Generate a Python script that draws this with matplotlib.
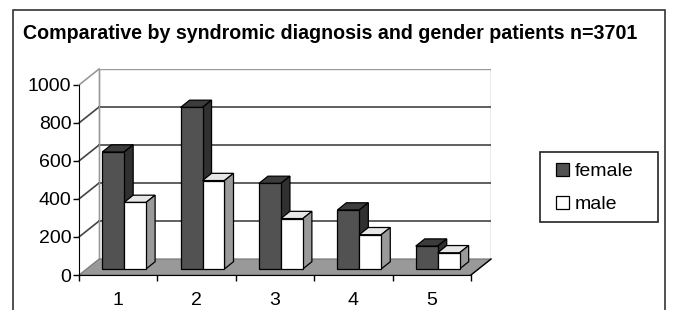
import matplotlib.pyplot as plt
from matplotlib.patches import Polygon, Rectangle
import numpy as np

# data
categories = ["1", "2", "3", "4", "5"]
female = [615, 850, 450, 310, 120]
male = [350, 465, 265, 180, 85]
series_names = ["female", "male"]
yticks = [0, 200, 400, 600, 800, 1000]

plt.rcParams['font.family'] = ['Liberation Sans', 'DejaVu Sans']

W, H = 673, 310
fig = plt.figure(figsize=(W / 100, H / 100), dpi=100)

# pseudo-3d geometry (category units / value units)
wall_dx, wall_dy = 0.256, 84      # back wall offset
base_dx, base_dy = 0.096, 32      # where the bars stand on the floor
top_dx, top_dy = 0.115, 38        # bar depth
bar_w = 0.28
offsets = [0.20, 0.48]            # left of front face inside a category (before base shift)

n = len(categories)
ax = fig.add_axes([79 / W, (H - 275) / H, (491 - 79) / W, (275 - 69) / H])
ax.set_xlim(0, n + wall_dx)
ax.set_ylim(0, yticks[-1] + wall_dy)
ax.set_facecolor('none')

# back wall + side wall
ax.add_patch(Rectangle((wall_dx, wall_dy), n, yticks[-1], fc='white', ec='#999999', lw=1, zorder=1))
for v in yticks[1:]:
    col = '#999999' if v == yticks[-1] else '#444444'
    if v != yticks[-1]:
        ax.plot([wall_dx, n + wall_dx], [v + wall_dy, v + wall_dy], color=col, lw=1.2, zorder=2)
    ax.plot([0, wall_dx], [v, v + wall_dy], color=col, lw=1.2, zorder=2, clip_on=False)
ax.plot([wall_dx, wall_dx], [wall_dy, yticks[-1] + wall_dy], color='#999999', lw=1, zorder=2)

# floor
ax.add_patch(Polygon([(0, 0), (n, 0), (n + wall_dx, wall_dy), (wall_dx, wall_dy)],
                     closed=True, fc='#999999', ec='#777777', lw=0.8, zorder=3, clip_on=False))

# bars
face = [('#525252', '#3c3c3c', '#303030'), ('white', '#e6e6e6', '#9a9a9a')]
handles = []
z = 4
for i in range(n):
    for s, vals in enumerate([female, male]):
        x0 = i + offsets[s] + base_dx
        v = vals[i]
        fc, tc, sc = face[s]
        b = ax.bar(x0, v, width=bar_w, bottom=base_dy, align='edge', color=fc,
                   edgecolor='black', linewidth=0.9, zorder=z + 1)
        if i == 0:
            handles.append(b)
        top = base_dy + v
        ax.add_patch(Polygon([(x0, top), (x0 + bar_w, top), (x0 + bar_w + top_dx, top + top_dy),
                              (x0 + top_dx, top + top_dy)], closed=True, fc=tc, ec='black',
                             lw=0.9, zorder=z))
        ax.add_patch(Polygon([(x0 + bar_w, base_dy), (x0 + bar_w + top_dx, base_dy + top_dy),
                              (x0 + bar_w + top_dx, top + top_dy), (x0 + bar_w, top)],
                             closed=True, fc=sc, ec='black', lw=0.9, zorder=z))
        z += 2

# axes
for sp in ['top', 'right']:
    ax.spines[sp].set_visible(False)
ax.spines['left'].set_bounds(0, yticks[-1])
ax.spines['bottom'].set_bounds(0, n)
ax.spines['left'].set_zorder(40)
ax.spines['bottom'].set_zorder(40)
ax.plot([n, n + wall_dx], [0, wall_dy], color='black', lw=1, zorder=40, clip_on=False)
ax.set_yticks(yticks)
ax.set_yticklabels([str(v) for v in yticks])
ax.set_xticks(np.arange(n + 1))
ax.set_xticklabels([])
ax.set_xticks(np.arange(n) + 0.5, minor=True)
ax.set_xticklabels(categories, minor=True)
ax.tick_params(axis='y', length=4, width=1, pad=1.5, labelsize=14)
ax.tick_params(axis='x', which='major', length=4, width=1, direction='out')
ax.tick_params(axis='x', which='minor', length=0, pad=12, labelsize=14)

fig.text(23 / W, 1 - 39 / H, "Comparative by syndromic diagnosis and gender patients n=3701",
         fontsize=14.1, fontweight='bold', va='baseline', ha='left')

# legend (frame drawn separately so its size can match)
leg = fig.legend(handles, series_names, loc='center left',
                 bbox_to_anchor=(556 / W, 1 - 188 / H), fontsize=14,
                 frameon=False, handlelength=0.68, handleheight=0.68, handletextpad=0.3,
                 borderpad=0, borderaxespad=0, labelspacing=0.8)
fig.patches.append(Rectangle((540 / W, 1 - 222 / H), 118 / W, 70 / H, transform=fig.transFigure,
                             fill=False, ec='#222222', lw=1.2))

fig.patches.append(Rectangle((12.5 / W, -0.1), (665 - 12.5) / W, 1.1 - 9.5 / H, transform=fig.transFigure,
                             fill=False, ec='#333333', lw=1.2))

fig.savefig('out.png', dpi=100)
